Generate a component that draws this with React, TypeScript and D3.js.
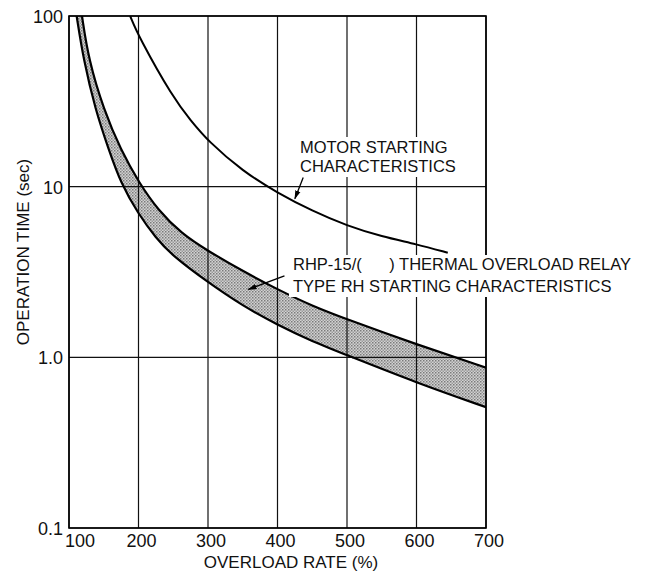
import React from 'react';
import * as d3 from 'd3';

// overload rate (%) vs operation time (sec)
const bandUpperRate = [118.7, 128.2, 150, 174.5, 201, 228, 262, 300, 350, 400, 450, 500, 600, 700];
const bandUpperTime = [100, 55.4, 28.2, 16.4, 10.5, 7.3, 5.3, 4.2, 3.2, 2.5, 2.0, 1.67, 1.19, 0.87];
const bandLowerRate = [111, 120.9, 138, 157.4, 174.5, 199, 225, 250, 300, 350, 400, 450, 500, 600, 700];
const bandLowerTime = [100, 55.4, 28.2, 16.4, 10.5, 7.0, 5.0, 3.9, 2.75, 2.0, 1.55, 1.24, 1.03, 0.71, 0.51];
const motorRate = [188, 200, 250, 275, 300, 350, 400, 450, 500, 550, 600, 645];
const motorTime = [100, 76, 33, 24.5, 18.5, 12.3, 9.2, 7.2, 5.9, 5.1, 4.6, 4.1];

const xTicks = [100, 200, 300, 400, 500, 600, 700];
const yTicks = [100, 10, 1, 0.1];
const yTickLabels = ['100', '10', '1.0', '0.1'];

const W = 666;
const H = 575;
const font = '"Liberation Sans", Arial, Helvetica, sans-serif';

export default function App() {
  const x = d3.scaleLinear().domain([100, 700]).range([69, 486]);
  const y = d3.scaleLog().domain([0.1, 100]).range([528, 16]);

  const toPts = (rs: number[], ts: number[]) => rs.map((r, i) => [r, ts[i]] as [number, number]);
  const upper = toPts(bandUpperRate, bandUpperTime);
  const lower = toPts(bandLowerRate, bandLowerTime);
  const motor = toPts(motorRate, motorTime);

  const line = d3
    .line<[number, number]>()
    .x((d) => x(d[0]))
    .y((d) => y(d[1]))
    .curve(d3.curveBasis);

  const x0 = x(100);
  const x1 = x(700);
  const yTop = y(100);
  const yBot = y(0.1);

  const upperPath = line(upper) || '';
  const lowerPath = line(lower) || '';
  // region below each curve, used to mask out the band
  const under = (p: string) => `${p}L${x1 + 5},${yBot}L${x0 - 5},${yBot}L${x0 - 5},${yTop - 5}Z`;

  // annotation arrows (data units)
  const motorArrow = { from: [437, 11.3], to: [425, 8.5] };
  const relayArrow = { from: [410, 3.0], to: [358, 2.5] };

  return (
    <svg
      width={W}
      height={H}
      style={{ position: 'absolute', left: 0, top: 0, background: '#fff' }}
      fontFamily={font}
    >
      <defs>
        <pattern id="dots" width="3" height="3" patternUnits="userSpaceOnUse">
          <rect width="3" height="3" fill="#d2d2d2" />
          <rect width="1.5" height="1.5" fill="#7a7a7a" />
          <rect x="1.5" y="1.5" width="1.5" height="1.5" fill="#9a9a9a" />
        </pattern>
        <marker id="arrow" viewBox="0 0 10 10" refX="9" refY="5" markerWidth="7" markerHeight="7" orient="auto">
          <path d="M0,2 L10,5 L0,8 Z" fill="#000" />
        </marker>
        <clipPath id="plot">
          <rect x={x0} y={yTop} width={x1 - x0} height={yBot - yTop} />
        </clipPath>
        <mask id="band">
          <path d={under(upperPath)} fill="#fff" />
          <path d={under(lowerPath)} fill="#000" />
        </mask>
      </defs>

      {/* shaded relay band */}
      <g clipPath="url(#plot)">
        <rect x={x0} y={yTop} width={x1 - x0} height={yBot - yTop} fill="url(#dots)" mask="url(#band)" />
      </g>

      {/* grid */}
      <g stroke="#111" strokeWidth={1.2}>
        {xTicks.map((t) => (
          <line key={'vx' + t} x1={x(t)} x2={x(t)} y1={yTop} y2={yBot} />
        ))}
        {yTicks.map((t) => (
          <line key={'hy' + t} x1={x0} x2={x1} y1={y(t)} y2={y(t)} />
        ))}
      </g>
      <rect x={x0} y={yTop} width={x1 - x0} height={yBot - yTop} fill="none" stroke="#000" strokeWidth={1.6} />

      {/* curves */}
      <g clipPath="url(#plot)">
        <path d={upperPath} fill="none" stroke="#000" strokeWidth={2.2} />
        <path d={lowerPath} fill="none" stroke="#000" strokeWidth={2.2} />
        <path d={line(motor) || ''} fill="none" stroke="#000" strokeWidth={2} />
      </g>

      {/* labels with white backing */}
      <rect x={297} y={137} width={166} height={40} fill="#fff" />
      <text fontSize={16.5} fill="#111">
        <tspan x={300} y={153}>MOTOR STARTING</tspan>
        <tspan x={300} y={172}>CHARACTERISTICS</tspan>
      </text>
      <line
        x1={x(motorArrow.from[0])}
        y1={y(motorArrow.from[1])}
        x2={x(motorArrow.to[0])}
        y2={y(motorArrow.to[1])}
        stroke="#000"
        strokeWidth={1.3}
        markerEnd="url(#arrow)"
      />

      <rect x={289} y={255} width={366} height={42} fill="#fff" />
      <text fontSize={16.5} fill="#111" style={{ whiteSpace: 'pre' }}>
        <tspan x={293} y={270}>{'RHP-15/(      ) THERMAL OVERLOAD RELAY'}</tspan>
        <tspan x={293} y={292}>TYPE RH STARTING CHARACTERISTICS</tspan>
      </text>
      <line
        x1={x(relayArrow.from[0])}
        y1={y(relayArrow.from[1])}
        x2={x(relayArrow.to[0])}
        y2={y(relayArrow.to[1])}
        stroke="#000"
        strokeWidth={1.3}
        markerEnd="url(#arrow)"
      />

      {/* y ticks */}
      {yTicks.map((t, i) => (
        <text key={'yt' + t} x={63} y={y(t) + 7} textAnchor="end" fontSize={18} fill="#111">
          {yTickLabels[i]}
        </text>
      ))}
      {/* x ticks */}
      {xTicks.map((t, i) => (
        <text
          key={'xt' + t}
          x={i === 0 ? x(t) - 4 : x(t) + 3}
          y={547}
          textAnchor={i === 0 ? 'start' : 'middle'}
          fontSize={18}
          fill="#111"
        >
          {t}
        </text>
      ))}

      <text x={291} y={568} textAnchor="middle" fontSize={17} fill="#111">
        OVERLOAD RATE (%)
      </text>
      <text transform="translate(29,252) rotate(-90)" textAnchor="middle" fontSize={17} fill="#111">
        OPERATION TIME (sec)
      </text>
    </svg>
  );
}
